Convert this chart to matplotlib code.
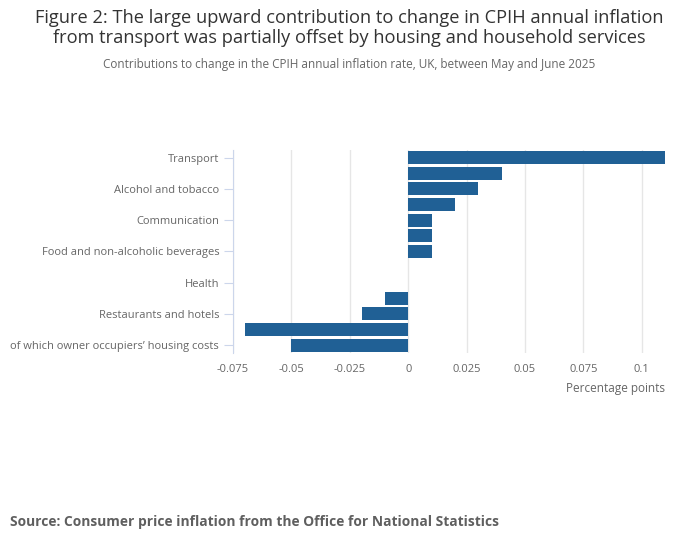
import matplotlib.pyplot as plt
import numpy as np

plt.rcParams['font.family'] = ['Open Sans', 'DejaVu Sans']

categories = [
    "Transport",
    "Recreation and culture",
    "Alcohol and tobacco",
    "Clothing and footwear",
    "Communication",
    "Education",
    "Food and non-alcoholic beverages",
    "Furniture and household goods",
    "Health",
    "Miscellaneous goods and services",
    "Restaurants and hotels",
    "Housing and household services",
    "of which owner occupiers\u2019 housing costs",
]
contributions = [0.11, 0.04, 0.03, 0.02, 0.01, 0.01, 0.01, 0.0, 0.0,
                 -0.01, -0.02, -0.07, -0.05]
x_ticks = [-0.075, -0.05, -0.025, 0, 0.025, 0.05, 0.075, 0.1]
x_tick_labels = ["-0.075", "-0.05", "-0.025", "0", "0.025", "0.05", "0.075", "0.1"]

fig = plt.figure(figsize=(7, 5.49), dpi=100)
ax = fig.add_axes([0.333, 0.357, 0.617, 0.370])

y = np.arange(len(categories))
ax.barh(y, contributions, height=0.83, color="#206095", zorder=3)

ax.set_xlim(-0.075, 0.11)
ax.set_ylim(len(categories) - 0.5, -0.5)

ax.set_xticks(x_ticks)
ax.set_xticklabels(x_tick_labels)
ax.set_yticks(y[::2])
ax.set_yticklabels(categories[::2])

ax.grid(axis="x", color="#e6e6e6", linewidth=1, zorder=0)
for side in ["top", "right", "bottom"]:
    ax.spines[side].set_visible(False)
ax.spines["left"].set_color("#ccd6eb")
ax.tick_params(axis="y", length=6.5, color="#ccd6eb", labelsize=8, labelcolor="#666666", pad=3.5)
ax.tick_params(axis="x", length=0, labelsize=8, labelcolor="#666666", pad=8)

ax.text(1.0, -0.175, "Percentage points", transform=ax.transAxes, ha="right", va="center",
        fontsize=8.5, color="#666666")

fig.text(0.4986, 0.967, "Figure 2: The large upward contribution to change in CPIH annual inflation",
         ha="center", va="center", fontsize=13.15, color="#333333")
fig.text(0.4986, 0.930, "from transport was partially offset by housing and household services",
         ha="center", va="center", fontsize=13.15, color="#333333")
fig.text(0.4986, 0.883, "Contributions to change in the CPIH annual inflation rate, UK, between May and June 2025",
         ha="center", va="center", fontsize=8.5, color="#666666")
fig.text(0.014, 0.049, "Source: Consumer price inflation from the Office for National Statistics",
         ha="left", va="center", fontsize=9.9, fontweight="bold", color="#5f5f5f")

fig.savefig("out.png", dpi=100)
